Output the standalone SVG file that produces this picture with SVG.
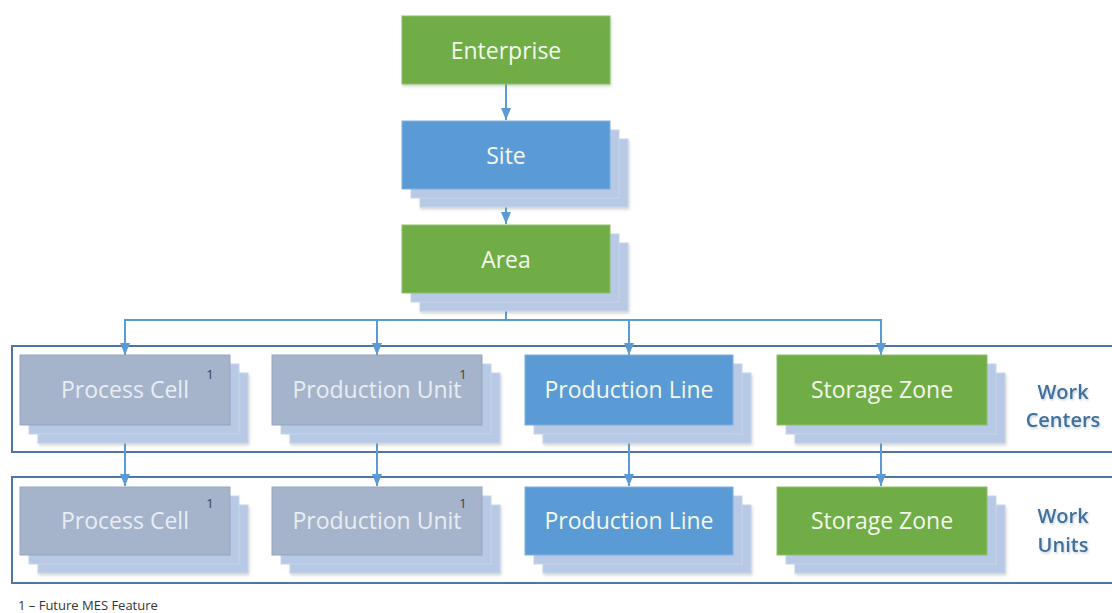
<svg xmlns="http://www.w3.org/2000/svg" width="1112" height="613" viewBox="0 0 1112 613">
<defs>
<marker id="ah" markerWidth="12" markerHeight="10" refX="12" refY="5" orient="auto" markerUnits="userSpaceOnUse">
<path d="M0,0 L12,5 L0,10 Z" fill="#5B9BD5"/>
</marker>
<filter id="sh" x="-10%" y="-10%" width="130%" height="140%">
<feDropShadow dx="1" dy="2" stdDeviation="1.5" flood-color="#7f8f7f" flood-opacity="0.35"/>
</filter>
<filter id="tsh" x="-10%" y="-20%" width="130%" height="160%">
<feDropShadow dx="1" dy="1.5" stdDeviation="1" flood-color="#8aa0b8" flood-opacity="0.5"/>
</filter>
<style>
.back{fill:#B8C9E6;stroke:#C8D5EA;stroke-width:1}
.green{fill:#70AD47;stroke:#8DBF6C;stroke-width:1}
.blue{fill:#5B9BD5;stroke:#7FB0DE;stroke-width:1}
.gray{fill:#A6B4CB;stroke:#95A5BF;stroke-width:1}
.lbl{font-family:"Open Sans","Liberation Sans",sans-serif;font-size:23px;fill:#F4F7EC;text-anchor:middle;dominant-baseline:central}
.glbl{font-family:"Open Sans","Liberation Sans",sans-serif;font-size:23px;fill:#E9EDF4;text-anchor:middle;dominant-baseline:central}
.sup{font-family:"Open Sans","Liberation Sans",sans-serif;font-size:13px;fill:#404040;text-anchor:middle}
.side{font-family:"Open Sans","Liberation Sans",sans-serif;font-size:20px;font-weight:600;fill:#41719C;text-anchor:middle}
.conn{fill:none;stroke:#5B9BD5;stroke-width:2}
.cont{fill:#FFFFFF;stroke:#4F76A3;stroke-width:2}
</style>
</defs>
<rect width="1112" height="613" fill="#FFFFFF"/>

<g id="containers">
<rect class="cont" x="12" y="346" width="1110" height="106"/>
<rect class="cont" x="12" y="477" width="1110" height="106"/>
</g>

<g id="connectors">
<path class="conn" d="M506,84 L506,120" marker-end="url(#ah)"/>
<path class="conn" d="M506,189 L506,224" marker-end="url(#ah)"/>
<path class="conn" d="M506,293 L506,320"/>
<path class="conn" d="M124,320 L882,320"/>
<path class="conn" d="M125,320 L125,355" marker-end="url(#ah)"/>
<path class="conn" d="M377,320 L377,355" marker-end="url(#ah)"/>
<path class="conn" d="M629,320 L629,355" marker-end="url(#ah)"/>
<path class="conn" d="M881,320 L881,355" marker-end="url(#ah)"/>
<path class="conn" d="M125,443 L125,486" marker-end="url(#ah)"/>
<path class="conn" d="M377,443 L377,486" marker-end="url(#ah)"/>
<path class="conn" d="M629,443 L629,486" marker-end="url(#ah)"/>
<path class="conn" d="M881,443 L881,486" marker-end="url(#ah)"/>
</g>

<g id="enterprise">
<rect class="green" x="402" y="16" width="208" height="68" filter="url(#sh)"/>
<text class="lbl" x="506" y="50">Enterprise</text>
</g>

<g id="site">
<rect class="back" x="420" y="139" width="208" height="68" filter="url(#sh)"/>
<rect class="back" x="411" y="130" width="208" height="68"/>
<rect class="blue" x="402" y="121" width="208" height="68"/>
<text class="lbl" x="506" y="155">Site</text>
</g>

<g id="area">
<rect class="back" x="420" y="243" width="208" height="68" filter="url(#sh)"/>
<rect class="back" x="411" y="234" width="208" height="68"/>
<rect class="green" x="402" y="225" width="208" height="68"/>
<text class="lbl" x="506" y="259">Area</text>
</g>

<g id="wc-process-cell">
<rect class="back" x="38" y="373" width="210" height="70" filter="url(#sh)"/>
<rect class="back" x="29" y="364" width="210" height="70"/>
<rect class="gray" x="20" y="355" width="210" height="70"/>
<text class="glbl" x="125" y="389">Process Cell</text>
<text class="sup" x="210" y="379">1</text>
</g>

<g id="wc-production-unit">
<rect class="back" x="290" y="373" width="210" height="70" filter="url(#sh)"/>
<rect class="back" x="281" y="364" width="210" height="70"/>
<rect class="gray" x="272" y="355" width="210" height="70"/>
<text class="glbl" x="377" y="389">Production Unit</text>
<text class="sup" x="463" y="379">1</text>
</g>

<g id="wc-production-line">
<rect class="back" x="543" y="373" width="208" height="70" filter="url(#sh)"/>
<rect class="back" x="534" y="364" width="208" height="70"/>
<rect class="blue" x="525" y="355" width="208" height="70"/>
<text class="lbl" x="629" y="389">Production Line</text>
</g>

<g id="wc-storage-zone">
<rect class="back" x="795" y="373" width="210" height="70" filter="url(#sh)"/>
<rect class="back" x="786" y="364" width="210" height="70"/>
<rect class="green" x="777" y="355" width="210" height="70"/>
<text class="lbl" x="882" y="389">Storage Zone</text>
</g>

<g id="work-centers-label" filter="url(#tsh)">
<text class="side" x="1063" y="399">Work</text>
<text class="side" x="1063" y="427">Centers</text>
</g>

<g id="wu-process-cell">
<rect class="back" x="38" y="505" width="210" height="68" filter="url(#sh)"/>
<rect class="back" x="29" y="496" width="210" height="68"/>
<rect class="gray" x="20" y="487" width="210" height="68"/>
<text class="glbl" x="125" y="520">Process Cell</text>
<text class="sup" x="210" y="508">1</text>
</g>

<g id="wu-production-unit">
<rect class="back" x="290" y="505" width="210" height="68" filter="url(#sh)"/>
<rect class="back" x="281" y="496" width="210" height="68"/>
<rect class="gray" x="272" y="487" width="210" height="68"/>
<text class="glbl" x="377" y="520">Production Unit</text>
<text class="sup" x="463" y="508">1</text>
</g>

<g id="wu-production-line">
<rect class="back" x="543" y="505" width="208" height="68" filter="url(#sh)"/>
<rect class="back" x="534" y="496" width="208" height="68"/>
<rect class="blue" x="525" y="487" width="208" height="68"/>
<text class="lbl" x="629" y="520">Production Line</text>
</g>

<g id="wu-storage-zone">
<rect class="back" x="795" y="505" width="210" height="68" filter="url(#sh)"/>
<rect class="back" x="786" y="496" width="210" height="68"/>
<rect class="green" x="777" y="487" width="210" height="68"/>
<text class="lbl" x="882" y="520">Storage Zone</text>
</g>

<g id="work-units-label" filter="url(#tsh)">
<text class="side" x="1063" y="523">Work</text>
<text class="side" x="1063" y="552">Units</text>
</g>

<g id="footnote">
<text x="18" y="610" font-family="'Open Sans','Liberation Sans',sans-serif" font-size="13px" fill="#333333">1 – Future MES Feature</text>
</g>
</svg>
